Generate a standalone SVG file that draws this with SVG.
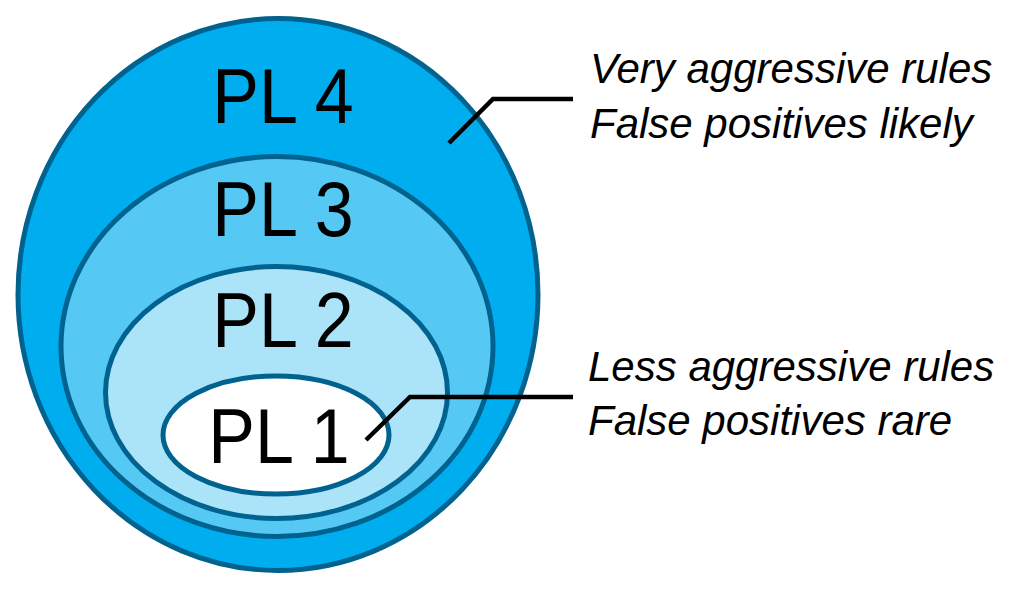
<svg xmlns="http://www.w3.org/2000/svg" width="1010" height="589" viewBox="0 0 1010 589">
<style>
.ring{stroke:#00628F;stroke-width:5}
.lbl{font-family:"Liberation Sans",Arial,sans-serif;font-size:70px;fill:#000;text-anchor:middle}
.note{font-family:"Liberation Sans",Arial,sans-serif;font-size:42px;font-style:italic;fill:#000}
.conn{fill:none;stroke:#000;stroke-width:4.5}
</style>
<rect width="1010" height="589" fill="#fff"/>
<g id="pl4"><ellipse class="ring" cx="278" cy="294.5" rx="260" ry="276" fill="#00AEEF"/><text class="lbl" transform="translate(283,123) scale(1,1.12)">PL 4</text></g>
<g id="pl3"><ellipse class="ring" cx="277" cy="346.5" rx="216" ry="190" fill="#55C8F3"/><text class="lbl" transform="translate(283,236) scale(1,1.12)">PL 3</text></g>
<g id="pl2"><ellipse class="ring" cx="276.5" cy="392.5" rx="171" ry="126" fill="#ABE4F8"/><text class="lbl" transform="translate(283,347) scale(1,1.12)">PL 2</text></g>
<g id="pl1"><ellipse class="ring" cx="276" cy="435" rx="113" ry="59" fill="#FFFFFF"/><text class="lbl" transform="translate(279,463) scale(1,1.12)">PL 1</text></g>
<g id="connectors">
<polyline class="conn" points="449,143 493,99 573,99"/>
<polyline class="conn" points="366,440 410,397 573,397"/>
</g>
<g id="note-top"><text class="note" x="590" y="83">Very aggressive rules</text><text class="note" x="590" y="138">False positives likely</text></g>
<g id="note-bottom"><text class="note" x="588" y="381">Less aggressive rules</text><text class="note" x="588" y="435">False positives rare</text></g>
</svg>
